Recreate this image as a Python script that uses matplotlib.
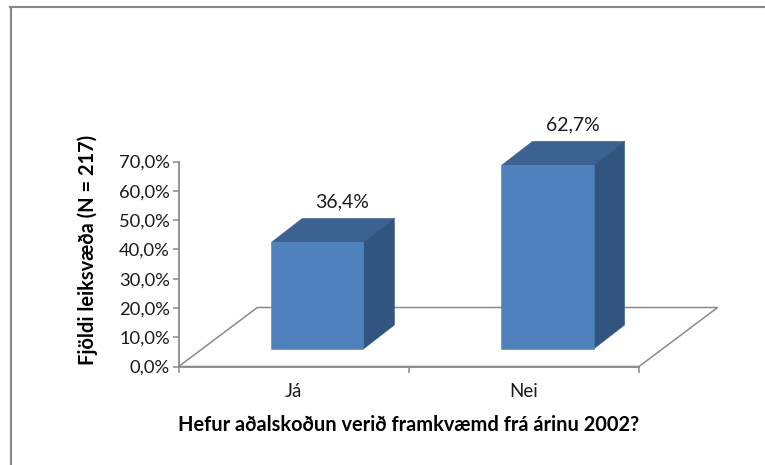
import matplotlib
matplotlib.use("Agg")
import matplotlib.pyplot as plt
from matplotlib.patches import Polygon
from matplotlib.lines import Line2D
from matplotlib.transforms import Affine2D

categories = ["Já", "Nei"]
values = [36.4, 62.7]
value_labels = ["36,4%", "62,7%"]
y_ticks = [0, 10, 20, 30, 40, 50, 60, 70]
y_tick_labels = ["0,0%", "10,0%", "20,0%", "30,0%", "40,0%", "50,0%", "60,0%", "70,0%"]
x_label = "Hefur aðalskoðun verið framkvæmd frá árinu 2002?"
y_label = "Fjöldi leiksvæða (N = 217)"

W, H = 765, 465
plt.rcParams["font.family"] = ["Lato", "DejaVu Sans"]
fig = plt.figure(figsize=(W / 100, H / 100), dpi=100, facecolor="white")

L, R, T, B = 178.7, 639.0, 161.5, 366.5
ax = fig.add_axes([L / W, 1 - B / H, (R - L) / W, (B - T) / H])
ax.set_xlim(-0.5, 1.5)
ax.set_ylim(0, 70)
ax.patch.set_visible(False)

GRAY = "#8a8a8a"
FRONT = "#4f81bd"
TOP = "#3c6291"
SIDE = "#325580"
TEXT = "#1a1a1a"
WIDTH = 0.4

# 3D offsets in pixels
floor_dx, floor_dy = 78.6, 59.0
base = ax.transData + Affine2D().translate(23.6, 17.5)
depth = (31.0, 24.0)
back = base + Affine2D().translate(*depth)
px = Affine2D()  # display-space identity

# floor, anchored on the axes corners
c0 = ax.transAxes.transform((0, 0))
c1 = ax.transAxes.transform((1, 0))
ax.add_patch(Polygon([c0, c0 + (floor_dx, floor_dy), c1 + (floor_dx, floor_dy), c1],
                     closed=True, fill=False, edgecolor=GRAY, linewidth=1.1,
                     transform=px, clip_on=False, zorder=1))

for i, (v, lab) in enumerate(zip(values, value_labels)):
    x0, x1 = i - WIDTH / 2, i + WIDTH / 2
    p_fl, p_fr = base.transform((x0, v)), base.transform((x1, v))
    p_bl, p_br = back.transform((x0, v)), back.transform((x1, v))
    p_r0, p_r0b = base.transform((x1, 0)), back.transform((x1, 0))
    ax.add_patch(Polygon([p_fl, p_bl, p_br, p_fr], closed=True, facecolor=TOP,
                         edgecolor=TOP, linewidth=0.4, transform=px, clip_on=False, zorder=3))
    ax.add_patch(Polygon([p_fr, p_br, p_r0b, p_r0], closed=True, facecolor=SIDE,
                         edgecolor=SIDE, linewidth=0.4, transform=px, clip_on=False, zorder=3))
    ax.bar(i, v, WIDTH, color=FRONT, edgecolor=FRONT, linewidth=0.4,
           transform=base, clip_on=False, zorder=4)
    ax.annotate(lab, xy=(i, v), xycoords=back, xytext=(-6, 16.5), textcoords="offset pixels",
                ha="center", va="center", fontsize=14, color=TEXT,
                annotation_clip=False, zorder=5)

ax.set_yticks(y_ticks)
ax.set_yticklabels(y_tick_labels, fontsize=13.2, color=TEXT)
ax.set_xticks([-0.5, 0.5, 1.5])
ax.set_xticklabels([])
ax.tick_params(axis="both", direction="out", color=GRAY, width=1.1, length=4)
ax.tick_params(axis="y", pad=2.5)
for s in ["top", "right"]:
    ax.spines[s].set_visible(False)
for s in ["left", "bottom"]:
    ax.spines[s].set_color(GRAY)
    ax.spines[s].set_linewidth(1.3)

for i, cat in enumerate(categories):
    ax.annotate(cat, xy=(i, 0), xycoords="data", xytext=(0, -24.5), textcoords="offset pixels",
                ha="center", va="center", fontsize=13.5, color=TEXT, annotation_clip=False)

fig.text(409 / W, 1 - 425 / H, x_label, ha="center", va="center",
         fontsize=14.4, fontweight="bold", color="black")
fig.text(87.5 / W, 1 - 250 / H, y_label, ha="center", va="center", rotation=90,
         fontsize=14.4, fontweight="bold", color="black")

# chart frame
fig.add_artist(Line2D([11 / W, 11 / W], [1 - 7 / H, 0], color="#868686", linewidth=1.5))
fig.add_artist(Line2D([10 / W, 1], [1 - 7 / H, 1 - 7 / H], color="#868686", linewidth=1.5))

fig.savefig("out.png", dpi=100, facecolor="white")
